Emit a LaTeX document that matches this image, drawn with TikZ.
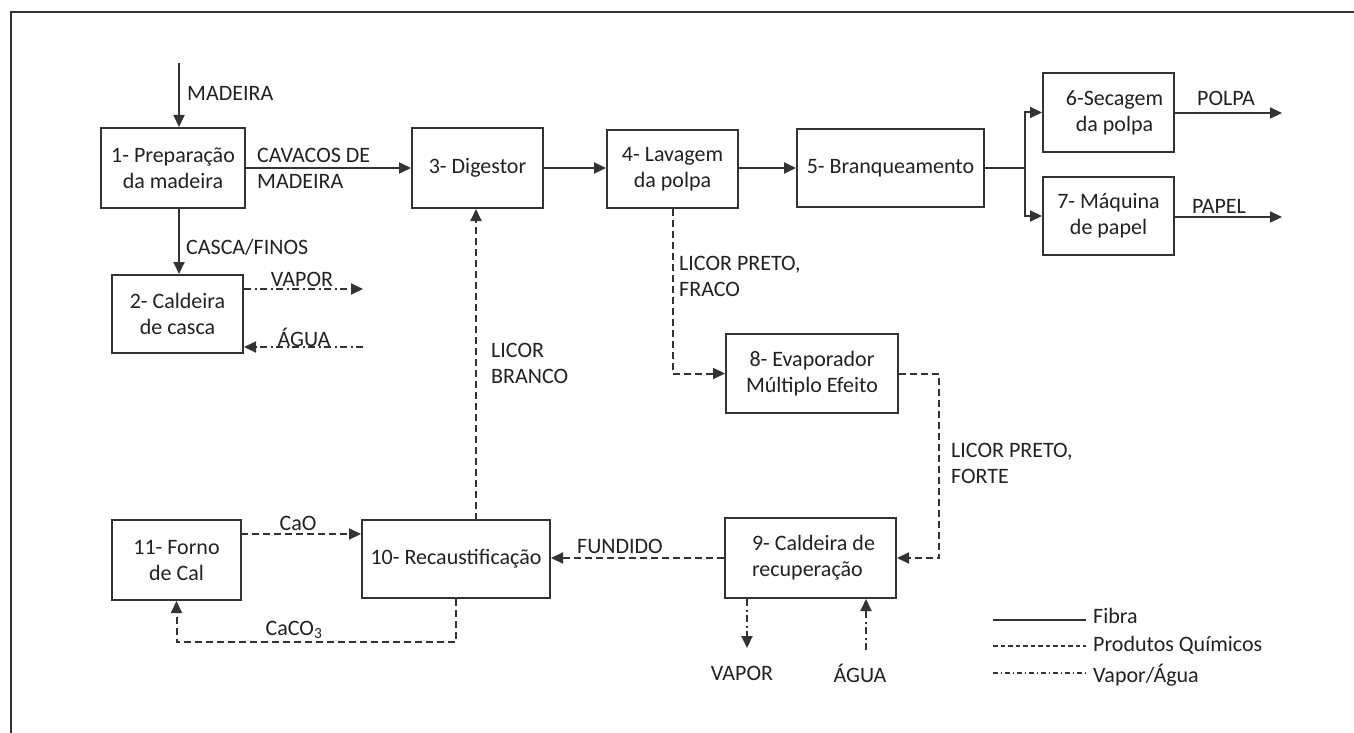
\documentclass[tikz,border=0pt]{standalone}
\usepackage{fontspec}
\setmainfont{Carlito}
\usetikzlibrary{arrows.meta,calc}
\definecolor{lc}{HTML}{333333}
\definecolor{tc}{HTML}{222222}
\begin{document}
\begin{tikzpicture}[x=1pt,y=-1pt,
  every node/.style={text=tc,font=\fontsize{22}{26}\selectfont,inner sep=0pt},
  box/.style={draw=lc,line width=2pt,rectangle,align=center},
  lab/.style={align=left},
  fib/.style={draw=lc,line width=2pt},
  chem/.style={draw=lc,line width=2pt,dash pattern=on 7pt off 4pt},
  steam/.style={draw=lc,line width=2pt,dash pattern=on 7pt off 3.5pt on 2pt off 3.5pt},
  tip/.style={-{Triangle[length=12pt,width=11pt]}}]
\useasboundingbox (0,0) rectangle (1354,733);
\fill[white] (0,0) rectangle (1354,733);
% frame
\draw[lc,line width=2pt] (11,733) -- (11,12) -- (1354,12);

% boxes
\node[box,minimum width=144pt,minimum height=80pt] (b1) at (173,168) {1- Preparação\\da madeira};
\node[box,minimum width=131pt,minimum height=78pt] (b2) at (177.5,314) {2- Caldeira\\de casca};
\node[box,minimum width=131pt,minimum height=80pt] (b3) at (477.5,168) {3- Digestor};
\node[box,minimum width=131pt,minimum height=78pt] (b4) at (672.5,169) {4- Lavagem\\da polpa};
\node[box,minimum width=187pt,minimum height=78pt] (b5) at (890.5,168) {5- Branqueamento};
\node[box,minimum width=131pt,minimum height=79pt] (b6) at (1108.5,112.5) {\hspace*{12pt}6-Secagem\\\hspace*{12pt}da polpa};
\node[box,minimum width=131pt,minimum height=78pt] (b7) at (1108.5,216) {7- Máquina\\de papel};
\node[box,minimum width=172pt,minimum height=79pt] (b8) at (812,373.5) {8- Evaporador\\Múltiplo Efeito};
\node[box,minimum width=171pt,minimum height=80pt,align=left] (b9) at (810.5,558) {\hspace*{6pt}9- Caldeira de\\\hspace*{6pt}recuperação};
\node[box,minimum width=188pt,minimum height=78pt] (b10) at (456,559) {10- Recaustificação};
\node[box,minimum width=129pt,minimum height=80pt] (b11) at (176.5,560) {11- Forno\\de Cal};

% coordinates for free ends and bends
\coordinate (madin) at (179,63);
\coordinate (cascaTop) at (179,208);
\coordinate (v2) at (363,289);
\coordinate (a2) at (363,347);
\coordinate (br) at (1025,168);
\coordinate (polpa) at (1282,113);
\coordinate (papel) at (1282,217);
\coordinate (lb) at (476,520);
\coordinate (c89) at (939,558);
\coordinate (cao) at (241,534);
\coordinate (v9) at (747,648);
\coordinate (a9) at (866,650);

% fibre lines
\draw[fib,tip] (madin) -- (madin |- b1.north);
\draw[fib,tip] (b1.east) -- (b3.west);
\draw[fib,tip] (b3.east) -- (b3.east -| b4.west);
\draw[fib,tip] (b4.east |- b5.west) -- (b5.west);
\draw[fib,tip] (cascaTop) -- (cascaTop |- b2.north);
\draw[fib] (b5.east) -- (br);
\draw[fib,tip] (br) |- (b6.west);
\draw[fib,tip] (br) |- (b7.west);
\draw[fib,tip] (b6.east |- polpa) -- (polpa);
\draw[fib,tip] (b7.east |- papel) -- (papel);

% steam / water
\draw[steam,tip] (v2 -| b2.east) -- (v2);
\draw[steam,tip] (a2) -- (a2 -| b2.east);
\draw[steam,tip] (v9 |- b9.south) -- (v9);
\draw[steam,tip] (a9) -- (a9 |- b9.south);

% chemicals
\draw[chem,tip] (lb) -- (lb |- b3.south);
\draw[chem,tip] (b4.south) |- (b8.west);
\draw[chem,tip] (b8.east) -| (c89) -- (b9.east);
\draw[chem,tip] (b9.west) -- (b9.west -| b10.east);
\draw[chem,tip] (cao) -- (cao -| b10.west);
\draw[chem,tip] (b10.south) -- ++(0,43) -| (b11.south);

% labels
\node[lab,anchor=west] (lmad) at (187,93) {MADEIRA};
\node[lab,anchor=west] (lcav) at (257,168) {CAVACOS DE\\MADEIRA};
\node[lab,anchor=west] (lcas) at (186,247) {CASCA/FINOS};
\node (lvap2) at (302,279) {VAPOR};
\node (lagu2) at (304,337) {ÁGUA};
\node[lab,anchor=west] (lfraco) at (679,276.5) {LICOR PRETO,\\FRACO};
\node[lab,anchor=west] (lbranco) at (491,363.5) {LICOR\\BRANCO};
\node[lab,anchor=west] (lforte) at (951,463.5) {LICOR PRETO,\\FORTE};
\node (lpolpa) at (1226,98) {POLPA};
\node (lpapel) at (1219,206) {PAPEL};
\node (lfund) at (620,546) {FUNDIDO};
\node (lcao) at (298,523) {CaO};
\node (lcaco) at (294,630) {CaCO\textsubscript{3}};
\node (lvap9) at (742,673) {VAPOR};
\node (lagu9) at (860,673) {ÁGUA};

% legend
\coordinate (g1a) at (993,620); \coordinate (g1b) at (1086,620);
\coordinate (g2a) at (993,646); \coordinate (g2b) at (1086,646);
\coordinate (g3a) at (993,673); \coordinate (g3b) at (1086,673);
\draw[fib] (g1a) -- (g1b);
\draw[draw=lc,line width=1.6pt,dash pattern=on 4.5pt off 3pt] (g2a) -- (g2b);
\draw[draw=lc,line width=1.6pt,dash pattern=on 4.5pt off 3pt on 1.5pt off 3pt] (g3a) -- (g3b);
\node[anchor=west] (lg1) at (1093,616) {Fibra};
\node[anchor=west] (lg2) at (1093,645) {Produtos Químicos};
\node[anchor=west] (lg3) at (1093,675) {Vapor/Água};
\end{tikzpicture}
\end{document}
